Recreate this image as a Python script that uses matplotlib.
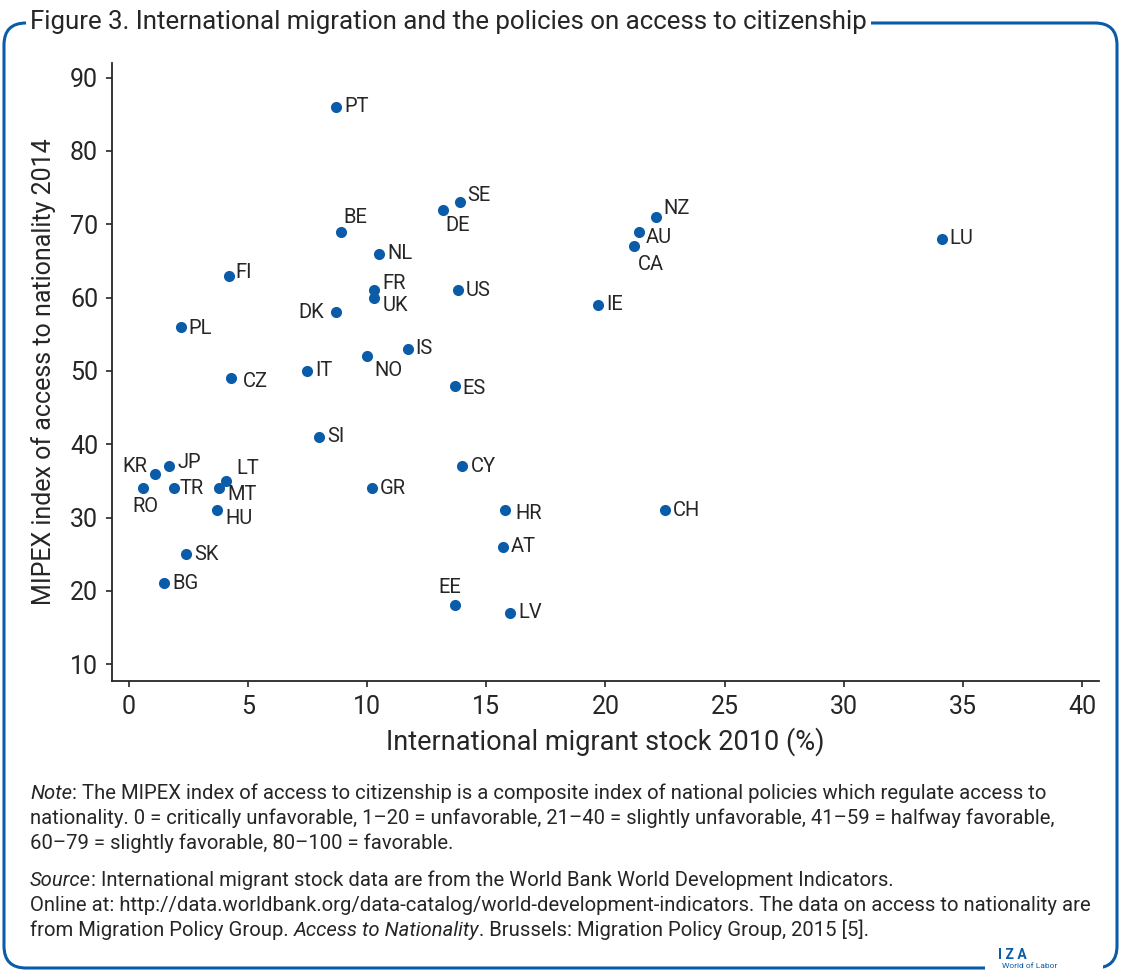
import matplotlib
matplotlib.use("Agg")
import matplotlib.pyplot as plt
from matplotlib.patches import FancyBboxPatch, Rectangle

# data
countries = ["PT", "SE", "DE", "NZ", "AU", "CA", "LU", "BE", "NL", "FI",
             "FR", "UK", "US", "IE", "DK", "PL", "IS", "NO", "IT", "CZ",
             "ES", "SI", "CY", "KR", "JP", "RO", "TR", "LT", "MT", "HU",
             "SK", "BG", "GR", "HR", "CH", "AT", "EE", "LV"]
migrant_stock = [8.7, 13.9, 13.2, 22.1, 21.4, 21.2, 34.1, 8.9, 10.5, 4.2,
                 10.3, 10.3, 13.8, 19.7, 8.7, 2.2, 11.7, 10.0, 7.5, 4.3,
                 13.7, 8.0, 14.0, 1.1, 1.7, 0.6, 1.9, 4.1, 3.8, 3.7,
                 2.4, 1.5, 10.2, 15.8, 22.5, 15.7, 13.7, 16.0]
mipex = [86, 73, 72, 71, 69, 67, 68, 69, 66, 63,
         61, 60, 61, 59, 58, 56, 53, 52, 50, 49,
         48, 41, 37, 36, 37, 34, 34, 35, 34, 31,
         25, 21, 34, 31, 31, 26, 18, 17]

# label offsets in pixels (dx, dy down, ha)
label_pos = {
    "SE": (7, -7, "left"), "DE": (2, 16, "left"), "NZ": (8, -8, "left"),
    "AU": (7, 6, "left"), "CA": (4, 18, "left"), "BE": (3, -14, "left"),
    "FR": (8, -7, "left"), "UK": (8, 8, "left"), "DK": (-12, 0, "right"),
    "NO": (7, 14, "left"), "CZ": (12, 3, "left"), "ES": (7, 3, "left"),
    "KR": (-8, -7, "right"), "JP": (8, -4, "left"), "RO": (2, 18, "center"),
    "TR": (6, 0, "left"), "LT": (10, -12, "left"), "MT": (8, 6, "left"),
    "HU": (8, 8, "left"), "HR": (10, 3, "left"), "EE": (-6, -18, "center"),
    "FI": (7, -3, "left"), "PL": (7, 2, "left"),
}

W, H = 1121, 971
BLUE = "#0a5ca8"
TEXT = "#262626"
plt.rcParams["font.family"] = ["Roboto", "DejaVu Sans"]

fig = plt.figure(figsize=(W / 100, H / 100), dpi=100)


def fx(x):
    return x / W


def fy(y):
    return 1 - y / H


ax = fig.add_axes([fx(112), fy(681), fx(1099) - fx(112), fy(63) - fy(681)])
ax.scatter(migrant_stock, mipex, s=64, color=BLUE, zorder=3, linewidths=0)
for c, x, y in zip(countries, migrant_stock, mipex):
    dx, dy, ha = label_pos.get(c, (8, 0, "left"))
    ax.annotate(c, (x, y), xytext=(dx * 0.72, -dy * 0.72), textcoords="offset points",
                ha=ha, va="center", fontsize=14.5, color=TEXT)

ax.set_xlim(-0.7, 40.7)
ax.set_ylim(7.7, 92)
ax.set_xticks(range(0, 41, 5))
ax.set_yticks(range(10, 91, 10))
for s in ["top", "right"]:
    ax.spines[s].set_visible(False)
for s in ["left", "bottom"]:
    ax.spines[s].set_color(TEXT)
    ax.spines[s].set_linewidth(1.3)
ax.tick_params(labelsize=18, colors=TEXT, length=4, width=1.2, pad=6)
ax.set_xlabel("International migrant stock 2010 (%)", fontsize=19.5, color=TEXT, labelpad=6)
ax.set_ylabel("MIPEX index of access to nationality 2014", fontsize=18, color=TEXT, labelpad=10)

# frame
frame = FancyBboxPatch((4, H - 968), 1113, 945, boxstyle="round,pad=0,rounding_size=22",
                       transform=None, facecolor="none", edgecolor=BLUE, linewidth=2.2)
fig.add_artist(frame)
fig.add_artist(Rectangle((985, 0), 118, 16, transform=None, facecolor="white",
                         edgecolor="none", zorder=5))
fig.text(fx(30), fy(22), "Figure 3. International migration and the policies on access to citizenship",
         fontsize=18.6, color=TEXT, va="center", ha="left", zorder=6,
         bbox=dict(facecolor="white", edgecolor="none", pad=3))
fig.text(fx(1012), fy(955), "I Z A", fontsize=10, color=BLUE, fontweight="bold",
         ha="center", va="center", zorder=6)
fig.text(fx(1030), fy(966), "World of Labor", fontsize=6, color=BLUE,
         ha="center", va="center", zorder=6)

# notes with italic pieces
renderer = fig.canvas.get_renderer()


def line(y, parts):
    x = fx(30)
    for txt, style in parts:
        t = fig.text(x, fy(y), txt, fontsize=14.6, color=TEXT, style=style, va="center", ha="left")
        bb = t.get_window_extent(renderer)
        x = bb.x1 / W


line(793, [("Note", "italic"), (": The MIPEX index of access to citizenship is a composite index of national policies which regulate access to", "normal")])
line(818, [("nationality. 0 = critically unfavorable, 1\u201320 = unfavorable, 21\u201340 = slightly unfavorable, 41\u201359 = halfway favorable,", "normal")])
line(843, [("60\u201379 = slightly favorable, 80\u2013100 = favorable.", "normal")])
line(880, [("Source", "italic"), (": International migrant stock data are from the World Bank World Development Indicators.", "normal")])
line(905, [("Online at: http://data.worldbank.org/data-catalog/world-development-indicators. The data on access to nationality are", "normal")])
line(930, [("from Migration Policy Group. ", "normal"), ("Access to Nationality", "italic"), (". Brussels: Migration Policy Group, 2015 [5].", "normal")])

fig.savefig("out.png", dpi=100)
